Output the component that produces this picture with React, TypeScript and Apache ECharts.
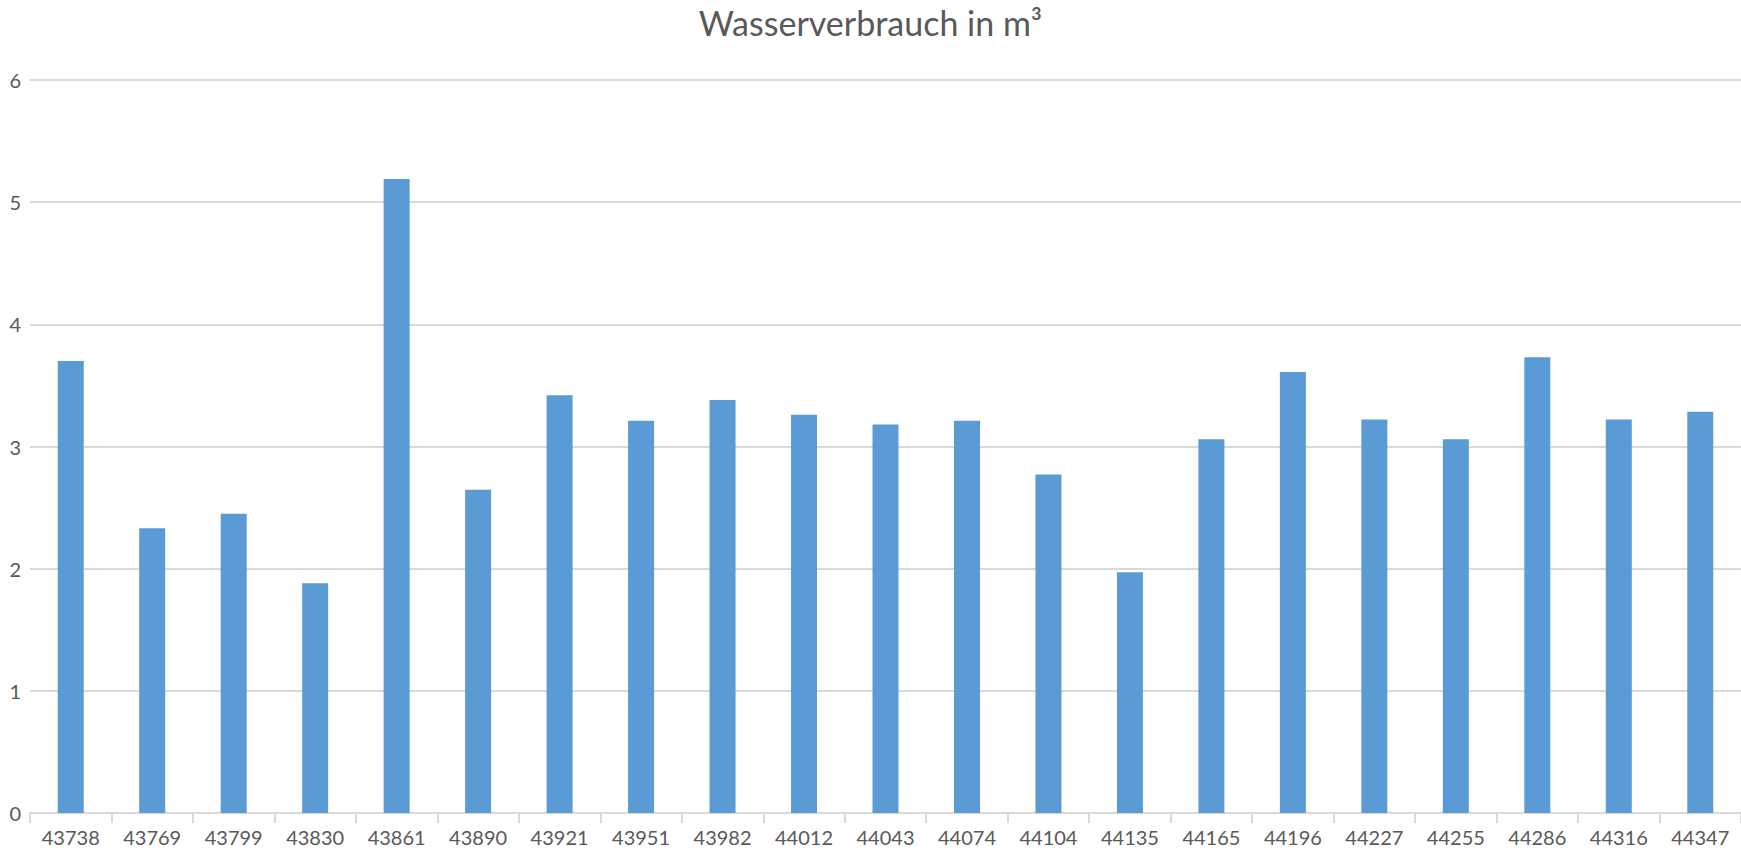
import React, { useEffect, useRef } from "react";
import * as echarts from "echarts";

const titleText = "Wasserverbrauch in m³";
const categories = [
  "43738", "43769", "43799", "43830", "43861", "43890", "43921", "43951",
  "43982", "44012", "44043", "44074", "44104", "44135", "44165", "44196",
  "44227", "44255", "44286", "44316", "44347",
];
const values = [
  3.70, 2.33, 2.45, 1.88, 5.19, 2.645, 3.42, 3.21, 3.38, 3.26, 3.18,
  3.21, 2.77, 1.97, 3.06, 3.61, 3.22, 3.06, 3.73, 3.22, 3.285,
];
const yMin = 0;
const yMax = 6;
const yStep = 1;

export default function App() {
  const ref = useRef<HTMLDivElement>(null);
  useEffect(() => {
    if (!ref.current) return;
    const chart = echarts.init(ref.current, undefined, { renderer: "svg" });
    const font = "Lato, 'Open Sans', sans-serif";
    chart.setOption({
      animation: false,
      backgroundColor: "#ffffff",
      title: {
        text: titleText,
        left: "center",
        top: 0,
        textStyle: { fontFamily: font, fontSize: 34, fontWeight: "normal", color: "#595959" },
      },
      grid: { left: 30, right: 0, top: 80, bottom: 37, containLabel: false },
      xAxis: {
        type: "category",
        data: categories,
        axisLine: { show: true, lineStyle: { color: "#d9d9d9", width: 2 } },
        axisTick: { show: true, length: 10, lineStyle: { color: "#d9d9d9", width: 2 } },
        axisLabel: { fontFamily: font, fontSize: 20, color: "#595959", margin: 14, interval: 0 },
      },
      yAxis: {
        type: "value",
        min: yMin,
        max: yMax,
        interval: yStep,
        axisLine: { show: false },
        axisTick: { show: false },
        splitLine: { lineStyle: { color: "#d9d9d9", width: 2 } },
        axisLabel: { fontFamily: font, fontSize: 20, color: "#595959", margin: 9 },
      },
      series: [
        {
          type: "bar",
          data: values,
          barWidth: 26,
          itemStyle: { color: "#5b9bd5" },
        },
      ],
    });
    return () => chart.dispose();
  }, []);
  return (
    <div
      ref={ref}
      style={{ position: "fixed", left: 0, top: 0, width: 1741, height: 850, background: "#fff" }}
    />
  );
}
